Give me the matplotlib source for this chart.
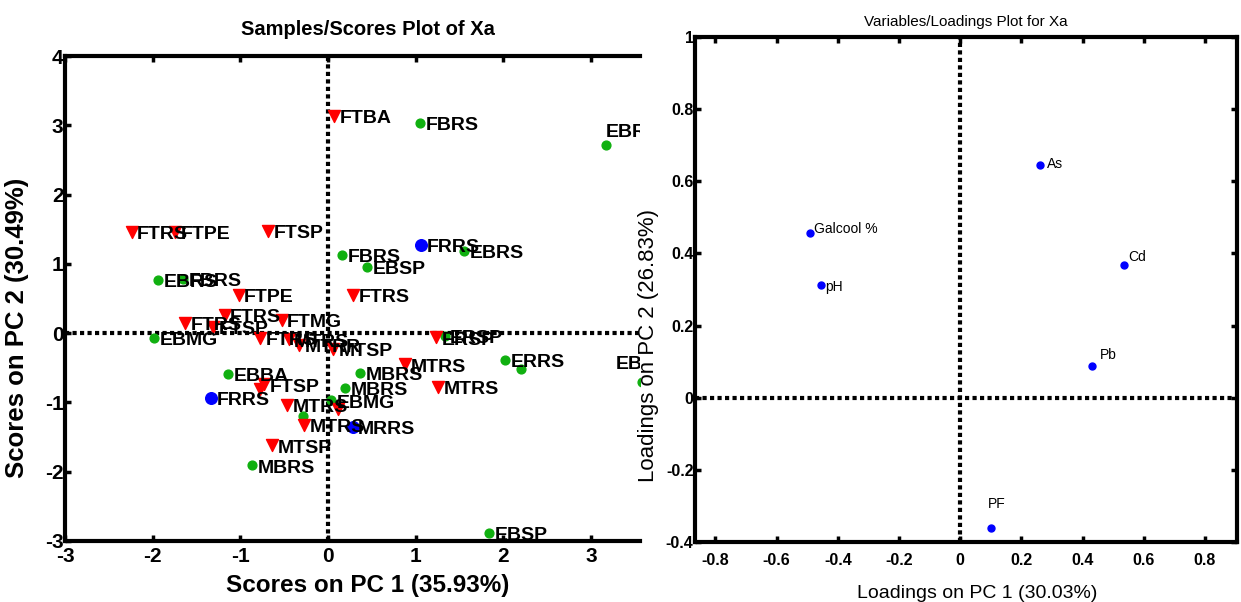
import matplotlib.pyplot as plt
import numpy as np

plt.rcParams['axes.unicode_minus'] = False

# ---- scores (left panel) ----
red_x = [0.07, -2.24, -1.74, -0.68, -1.02, 0.29, -1.63, -1.31, -1.18, -0.53, -0.77, -0.45,
         -0.33, 0.06, 1.23, 0.88, 1.26, -0.73, -0.77, -0.47, 0.11, -0.27, -0.64]
red_y = [3.14, 1.46, 1.46, 1.48, 0.55, 0.55, 0.15, 0.09, 0.26, 0.19, -0.07, -0.09,
         -0.17, -0.23, -0.06, -0.45, -0.78, -0.74, -0.80, -1.03, -1.10, -1.32, -1.62]
red_lab = ['FTBA', 'FTRS', 'FTPE', 'FTSP', 'FTPE', 'FTRS', 'FTRS', 'FTSP', 'FTRS', 'FTMG', 'FTRS', 'MTRS',
           'MTRR', 'MTSP', 'ERSP', 'MTRS', 'MTRS', 'FTSP', '', 'MTRS', '', 'MTRS', 'MTSP']

green_x = [1.05, 3.17, 0.16, 0.45, 1.55, -1.94, -1.65, -1.98, 1.33, 2.02, 2.20, 3.58,
           0.37, 0.20, 0.04, -1.14, -0.29, -0.87, 1.84]
green_y = [3.04, 2.71, 1.13, 0.96, 1.19, 0.77, 0.78, -0.07, -0.04, -0.39, -0.52, -0.71,
           -0.57, -0.79, -0.97, -0.59, -1.19, -1.91, -2.88]
green_lab = ['FBRS', 'EBRS', 'FBRS', 'EBSP', 'EBRS', 'EBRS', 'FBRS', 'EBMG', 'ERSP', 'ERRS', '', 'EBRS',
             'MBRS', 'MBRS', 'EBMG', 'EBBA', '', 'MBRS', 'EBSP']

blue_x = [1.06, -1.33, 0.28]
blue_y = [1.27, -0.93, -1.35]
blue_lab = ['FRRS', 'FRRS', 'MRRS']

# ---- loadings (right panel) ----
var_x = [0.26, -0.49, -0.455, 0.535, 0.43, 0.10]
var_y = [0.645, 0.457, 0.312, 0.367, 0.088, -0.36]
var_lab = ['As', 'Galcool %', 'pH', 'Cd', 'Pb', 'PF']

arial = ['Liberation Sans', 'DejaVu Sans']

fig = plt.figure(figsize=(12.41, 6.02), dpi=100)
W, H = 1241, 602
ax1 = fig.add_axes([65 / W, (H - 541) / H, (640 - 65) / W, 485 / H])
ax2 = fig.add_axes([695 / W, (H - 542) / H, 542 / W, 505 / H])

dot = (0, (1, 0.8))


def frame(ax):
    for s in ax.spines.values():
        s.set_linewidth(3)
    ax.tick_params(direction='in', length=4, width=2.5, top=True, right=True)


# left panel
ax1.scatter(green_x, green_y, s=40, color='#10b010', zorder=3)
ax1.scatter(red_x, red_y, s=75, marker='v', color='#ff0000', zorder=3)
ax1.scatter(blue_x, blue_y, s=70, color='#0000ff', zorder=3)
ax1.axvline(0, color='black', lw=3, ls=dot, zorder=1)
ax1.axhline(0, color='black', lw=3, ls=dot, zorder=1)
for xs, ys, labs in [(green_x, green_y, green_lab), (red_x, red_y, red_lab), (blue_x, blue_y, blue_lab)]:
    for x, y, t in zip(xs, ys, labs):
        if not t:
            continue
        dy = 0
        if t == 'EBRS' and (x > 3):
            dy = 11 if y > 0 else 15
        dx = 4 if x < 3 else (0 if x < 3.5 else -19)
        ax1.annotate(t, (x, y), xytext=(dx, -2 + dy), textcoords='offset points',
                     ha='left', va='center', fontsize=14, fontweight='bold',
                     family=arial, annotation_clip=False, clip_on=True, zorder=4)
ax1.set_xlim(-3, 3.56)
ax1.set_ylim(-3, 4)
ax1.set_xticks(np.arange(-3, 4))
ax1.set_yticks(np.arange(-3, 5))
ax1.spines['right'].set_visible(False)
frame(ax1)
ax1.tick_params(right=False)
for lab in ax1.get_xticklabels() + ax1.get_yticklabels():
    lab.set_family(arial)
    lab.set_fontweight('bold')
    lab.set_fontsize(15)
ax1.tick_params(axis='x', pad=4)
ax1.tick_params(axis='y', pad=1)
ax1.set_xlabel('Scores on PC 1 (35.93%)', fontsize=17.5, fontweight='bold', family=arial)
ax1.xaxis.set_label_coords(0.527, -0.068)
ax1.set_ylabel('Scores on PC 2 (30.49%)', fontsize=18.5, fontweight='bold', family=arial)
ax1.yaxis.set_label_coords(-0.062, 0.44)
ax1.set_title('Samples/Scores Plot of Xa', fontsize=14.5, fontweight='bold', family=arial,
              x=0.527, pad=15)

# right panel
ax2.scatter(var_x, var_y, s=25, color='#0000ff', zorder=3)
ax2.axvline(0, color='black', lw=3, ls=dot, zorder=1)
ax2.axhline(0, color='black', lw=3, ls=dot, zorder=1)
offs = {'As': (5, 1), 'Galcool %': (3, 3), 'pH': (3, -1), 'Cd': (3, 6), 'Pb': (6, 8), 'PF': (-2, 17)}
for x, y, t in zip(var_x, var_y, var_lab):
    ox, oy = offs[t]
    ax2.annotate(t, (x, y), xytext=(ox, oy), textcoords='offset points',
                 ha='left', va='center', fontsize=10, family=arial)
ax2.set_xlim(-0.867, 0.905)
ax2.set_ylim(-0.4, 1)
ax2.set_xticks([-0.8, -0.6, -0.4, -0.2, 0, 0.2, 0.4, 0.6, 0.8])
ax2.set_xticklabels(['-0.8', '-0.6', '-0.4', '-0.2', '0', '0.2', '0.4', '0.6', '0.8'])
ax2.set_yticks([-0.4, -0.2, 0, 0.2, 0.4, 0.6, 0.8, 1])
ax2.set_yticklabels(['-0.4', '-0.2', '0', '0.2', '0.4', '0.6', '0.8', '1'])
frame(ax2)
for lab in ax2.get_xticklabels() + ax2.get_yticklabels():
    lab.set_family(arial)
    lab.set_fontweight('bold')
    lab.set_fontsize(11.5)
ax2.tick_params(axis='x', pad=8)
ax2.tick_params(axis='y', pad=1)
ax2.set_xlabel('Loadings on PC 1 (30.03%)', fontsize=14, family=arial)
ax2.xaxis.set_label_coords(0.52, -0.085)
ax2.set_ylabel('Loadings on PC 2 (26.83%)', fontsize=16, family=arial)
ax2.yaxis.set_label_coords(-0.066, 0.39)
ax2.set_title('Variables/Loadings Plot for Xa', fontsize=11, family=arial, pad=8)

fig.savefig('out.png', dpi=100)
